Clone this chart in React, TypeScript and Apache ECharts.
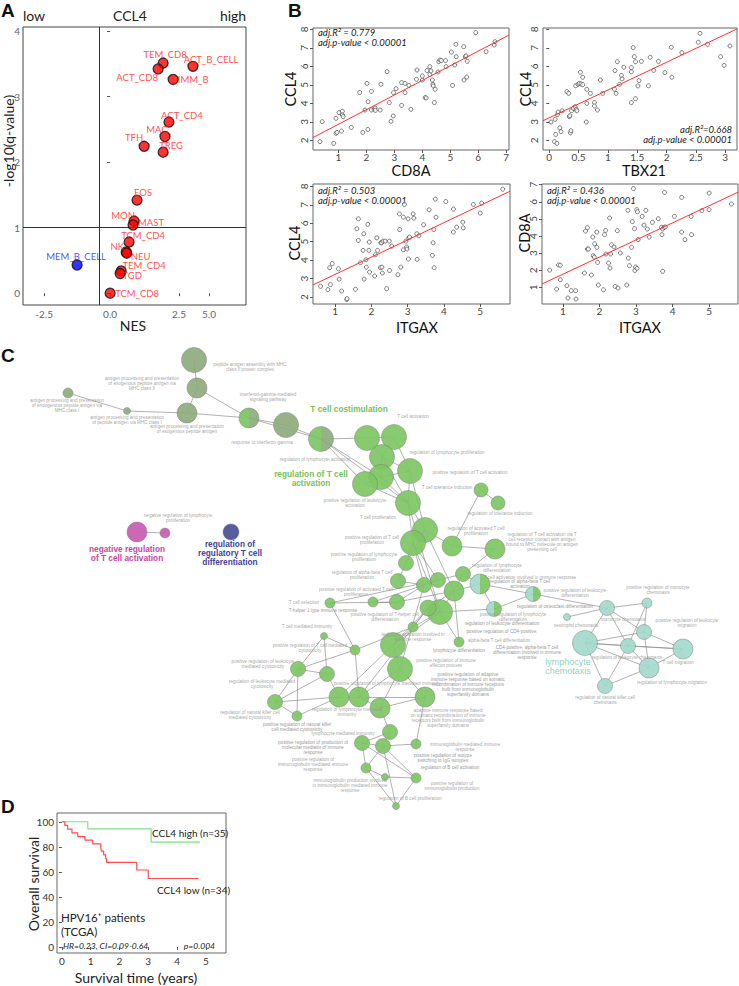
import React, { useEffect, useRef } from "react";
import * as echarts from "echarts";

const FONT = "Lato, 'Liberation Sans', sans-serif";
const NETFONT = "'Liberation Sans', Arial, sans-serif";

// ---------------- Panel A data ----------------
const cellTypes = ["TEM_CD8", "ACT_CD8", "ACT_B_CELL", "IMM_B", "ACT_CD4", "MAC", "TFH", "TREG", "EOS", "MON", "MAST", "TCM_CD4", "NK", "NEU", "TEM_CD4", "TGD", "TCM_CD8", "MEM_B_CELL"];
const nesValues = [2.01, 1.82, 3.14, 2.39, 2.23, 2.08, 1.29, 2.01, 1.02, 0.91, 0.87, 0.72, 0.61, 0.63, 0.42, 0.38, 0.0, -1.25];
const negLog10Q = [3.51, 3.42, 3.46, 3.26, 2.61, 2.39, 2.24, 2.15, 1.42, 1.1, 1.04, 0.78, 0.63, 0.61, 0.34, 0.3, 0.0, 0.43];
const nesTickValues = [-2.5, 0, 2.61, 3.75];
const nesTickLabels = ["-2.5", "0.0", "2.5", "5.0"];
const qTicks = [0, 1, 2, 3, 4];
const nesCut = -0.4;
const qCut = 1;
// label offsets (style)
const labelOffsetsA: [number, number][] = [[2, -9], [-21, 9], [18, -7], [20, 0], [13, -7], [-8, -7], [-10, -9], [8, -7], [6, -8], [-11, -6], [18, -3], [14, -7], [-9, -5], [14, 3], [23, -5], [12, 2], [27, 0], [-1, -9]];

// ---------------- Panel B data ----------------
const cd8a1 = [0.34, 0.42, 0.83, 0.91, 0.95, 0.91, 1.02, 1.11, 1.14, 1.14, 1.17, 1.46, 1.76, 1.87, 1.95, 2.02, 2.06, 2.05, 2.18, 2.18, 2.28, 2.31, 2.32, 2.49, 2.52, 2.74, 2.82, 2.88, 2.96, 2.97, 3.06, 3.26, 3.26, 3.38, 3.38, 3.52, 3.59, 3.79, 3.81, 4.0, 4.0, 4.1, 4.14, 4.17, 4.27, 4.27, 4.31, 4.36, 4.38, 4.39, 4.43, 4.46, 4.56, 4.59, 4.63, 4.68, 4.83, 4.85, 5.04, 5.08, 5.16, 5.2, 5.21, 5.48, 5.49, 5.54, 5.56, 5.59, 5.61, 5.91, 6.28, 6.57, 6.6];
const ccl4a = [1.93, 3.01, 1.84, 2.38, 2.43, 3.19, 3.5, 2.5, 3.57, 3.37, 3.28, 2.7, 4.59, 2.43, 3.64, 5.08, 4.09, 2.59, 4.65, 3.64, 3.68, 3.75, 3.62, 3.64, 5.03, 5.71, 4.04, 3.03, 3.32, 4.58, 4.79, 5.12, 3.89, 4.58, 5.08, 4.97, 3.68, 5.3, 5.8, 5.26, 5.48, 4.31, 4.29, 5.77, 5.55, 5.98, 5.75, 5.26, 5.03, 4.94, 4.04, 4.76, 5.69, 6.25, 6.34, 6.31, 6.31, 5.98, 6.77, 4.97, 6.07, 7.19, 6.52, 7.06, 5.26, 6.52, 6.56, 5.42, 6.27, 7.82, 6.79, 7.15, 7.33];
const tbx21 = [0.03, 0.09, 0.13, 0.11, 0.1, 0.14, 0.15, 0.18, 0.2, 0.22, 0.3, 0.33, 0.34, 0.35, 0.36, 0.37, 0.38, 0.41, 0.44, 0.46, 0.47, 0.45, 0.49, 0.51, 0.53, 0.54, 0.57, 0.57, 0.64, 0.64, 0.63, 0.7, 0.77, 0.77, 0.82, 0.87, 0.91, 1.12, 1.11, 1.14, 1.16, 1.2, 1.23, 1.24, 1.27, 1.4, 1.4, 1.4, 1.43, 1.45, 1.47, 1.47, 1.51, 1.53, 1.57, 1.69, 1.72, 1.78, 1.86, 1.97, 2.08, 2.09, 2.26, 2.54, 2.57, 2.7, 2.92, 2.98, 3.08];
const ccl4b = [2.99, 1.93, 1.84, 2.32, 3.14, 3.39, 3.53, 2.68, 2.47, 3.6, 4.63, 4.54, 3.28, 3.33, 2.41, 2.52, 3.6, 3.73, 3.82, 3.68, 3.6, 4.95, 5.03, 5.08, 5.68, 5.05, 5.41, 5.01, 4.76, 4.0, 2.99, 4.54, 4.04, 3.86, 3.64, 5.26, 4.54, 5.77, 4.76, 4.54, 6.25, 5.03, 5.51, 5.32, 5.95, 4.04, 5.71, 5.93, 7.01, 6.52, 6.25, 4.25, 4.94, 5.23, 6.27, 4.95, 6.49, 5.78, 6.27, 5.66, 7.03, 5.41, 6.74, 7.3, 7.78, 7.19, 6.52, 6.05, 7.1];
const itgaxC = [0.6, 0.8, 0.87, 0.85, 0.92, 1.09, 1.11, 1.18, 1.32, 1.33, 1.56, 1.6, 1.64, 1.64, 1.7, 1.77, 1.79, 1.8, 1.85, 1.86, 1.9, 1.93, 1.94, 1.95, 2.09, 2.11, 2.15, 2.17, 2.25, 2.26, 2.28, 2.29, 2.3, 2.32, 2.38, 2.42, 2.49, 2.5, 2.56, 2.73, 2.77, 2.78, 2.81, 2.88, 2.88, 2.91, 2.95, 2.97, 2.98, 3.01, 3.02, 3.03, 3.05, 3.15, 3.17, 3.25, 3.26, 3.31, 3.44, 3.59, 3.68, 3.7, 3.72, 3.73, 3.76, 3.78, 4.05, 4.26, 4.26, 4.35, 4.52, 4.53, 4.81, 5.0, 5.04, 5.62];
const ccl4c = [2.58, 2.4, 2.67, 3.59, 3.81, 3.53, 2.97, 2.32, 1.86, 1.91, 2.42, 5.7, 6.24, 5.07, 3.86, 4.53, 5.43, 2.97, 4.02, 3.62, 5.94, 4.53, 4.98, 3.35, 3.14, 4.29, 5.21, 4.53, 3.59, 4.94, 4.94, 3.62, 3.3, 5.03, 5.03, 2.45, 5.03, 3.44, 4.76, 3.21, 6.51, 5.66, 3.62, 6.33, 4.56, 7.02, 5.03, 4.71, 4.6, 6.24, 4.06, 5.21, 5.25, 6.51, 6.28, 5.43, 4.04, 5.32, 5.92, 6.73, 4.26, 4.94, 5.66, 3.59, 7.31, 6.33, 7.18, 6.77, 5.52, 5.79, 6.06, 5.75, 7.02, 6.55, 7.09, 7.85];
const itgaxD = [0.64, 0.83, 0.88, 0.93, 0.93, 1.11, 1.14, 1.23, 1.35, 1.36, 1.59, 1.62, 1.67, 1.67, 1.7, 1.78, 1.82, 1.83, 1.86, 1.87, 1.93, 1.93, 1.95, 1.97, 2.11, 2.14, 2.17, 2.18, 2.25, 2.28, 2.29, 2.31, 2.33, 2.4, 2.43, 2.49, 2.51, 2.57, 2.75, 2.78, 2.79, 2.82, 2.88, 2.9, 2.93, 2.96, 2.97, 2.99, 3.02, 3.03, 3.04, 3.06, 3.17, 3.22, 3.27, 3.31, 3.36, 3.45, 3.61, 3.7, 3.71, 3.73, 3.73, 3.77, 3.78, 3.8, 4.05, 4.25, 4.25, 4.34, 4.51, 4.52, 4.8, 5.0, 5.0, 5.61];
const cd8aD = [2.01, 0.9, 2.31, 2.29, 1.45, 1.1, 0.38, 0.81, 0.81, 0.32, 1.84, 4.29, 4.49, 3.24, 3.24, 1.72, 3.94, 2.85, 2.77, 3.55, 4.23, 3.34, 2.46, 1.14, 0.86, 4.08, 4.33, 2.95, 2.42, 5.05, 2.13, 2.95, 3.49, 3.36, 1.06, 4.31, 0.96, 3.01, 1.14, 5.5, 2.71, 2.27, 3.34, 4.84, 6.77, 4.43, 1.99, 2.19, 5.54, 2.11, 5.42, 3.79, 5.15, 4.64, 5.5, 4.41, 3.94, 4.8, 5.01, 4.51, 4.08, 4.41, 1.94, 4.51, 6.55, 4.53, 5.15, 6.26, 4.23, 3.79, 5.15, 4.08, 5.48, 6.51, 5.54, 5.87];
const fitIntercepts = [2.08, 3.22, 2.29, 0.77];
const fitSlopes = [0.79, 1.5, 0.936, 1.0];
const fitR2Texts = ["adj.R² = 0.779", "adj.R²=0.668", "adj.R² = 0.503", "adj.R² = 0.436"];
const fitPTexts = ["adj.p-value < 0.00001", "adj.p-value < 0.00001", "adj.p-value < 0.00001", "adj.p-value < 0.00001"];

// ---------------- Panel C data (network) ----------------
// [label, x, y, radius, group]
const networkNodes: [string, number, number, number, string][] = [
  ["peptide antigen assembly with MHC\nclass II protein complex", 194, 360, 12.5, "o"],
  ["antigen processing and presentation\nof exogenous peptide antigen via\nMHC class II", 197, 388, 10, "o"],
  ["antigen processing and presentation\nof endogenous peptide antigen via\nMHC class I", 68, 393, 5, "o"],
  ["antigen processing and presentation\nof peptide antigen via MHC class I", 127, 411, 3.5, "o"],
  ["antigen processing and presentation\nof exogenous peptide antigen", 187, 413, 10, "o"],
  ["interferon-gamma-mediated\nsignaling pathway", 249, 418, 10, "go"],
  ["response to interferon-gamma", 286, 425, 12.5, "o"],
  ["regulation of lymphocyte activation", 321, 439, 12.5, "go"],
  ["", 367, 438, 12.5, "g"],
  ["T cell activation", 394, 437, 12.5, "g"],
  ["regulation of lymphocyte proliferation", 382, 457, 12.5, "g"],
  ["positive regulation of T cell activation", 410, 471, 12.5, "g"],
  ["", 381, 477, 12.5, "g"],
  ["positive regulation of leukocyte\nactivation", 365, 484, 12.5, "g"],
  ["T cell proliferation", 408, 503, 12.5, "g"],
  ["", 425, 530, 12.5, "g"],
  ["positive regulation of T cell\nproliferation", 413, 543, 12.5, "g"],
  ["regulation of activated T cell\nproliferation", 452, 546, 10, "g"],
  ["T cell tolerance induction", 481, 490, 7, "g"],
  ["regulation of tolerance induction", 498, 503, 7, "g"],
  ["regulation of T cell activation via T\ncell receptor contact with antigen\nbound to MHC molecule on antigen\npresenting cell", 495, 549, 10, "g"],
  ["positive regulation of lymphocyte\nproliferation", 406, 563, 7.5, "g"],
  ["regulation of alpha-beta T cell\nproliferation", 398, 581, 7.5, "g"],
  ["positive regulation of activated T cell\nproliferation", 373, 602, 5, "g"],
  ["T cell selection", 330, 603, 5, "g"],
  ["positive regulation of T-helper cell\ndifferentiation", 397, 602, 7.5, "g"],
  ["", 424, 585, 7.5, "g"],
  ["", 438, 580, 7.5, "g"],
  ["regulation of lymphocyte\ndifferentiation", 463, 574, 7.5, "g"],
  ["", 454, 591, 10, "g"],
  ["", 440, 612, 12.5, "g"],
  ["", 428, 608, 8, "g"],
  ["T cell activation involved in immune response", 480, 584, 10, "tg"],
  ["positive regulation of lymphocyte\ndifferentiation", 494, 609, 7.5, "tg"],
  ["positive regulation of leukocyte\ndifferentiation", 533, 594, 7.5, "tg"],
  ["", 413, 627, 5, "g"],
  ["alpha-beta T cell differentiation", 459, 642, 5, "g"],
  ["leukocyte activation involved in\nimmune response", 393, 645, 12.5, "g"],
  ["positive regulation of immune\neffector process", 400, 669, 12.5, "g"],
  ["positive regulation of T cell mediated\ncytotoxicity", 355, 650, 5, "g"],
  ["T cell mediated immunity", 324, 636, 3.5, "g"],
  ["positive regulation of leukocyte\nmediated cytotoxicity", 298, 669, 7.5, "g"],
  ["regulation of leukocyte mediated\ncytotoxicity", 327, 674, 7.5, "g"],
  ["", 275, 702, 7.5, "g"],
  ["regulation of natural killer cell\nmediated cytotoxicity", 297, 716, 5, "g"],
  ["", 339, 697, 10, "g"],
  ["regulation of lymphocyte mediated\nimmunity", 359, 697, 10, "g"],
  ["positive regulation of lymphocyte mediated immunity", 380, 708, 10, "g"],
  ["adaptive immune response based\non somatic recombination of immune\nreceptors built from immunoglobulin\nsuperfamily domains", 425, 697, 10, "g"],
  ["", 390, 732, 7.5, "g"],
  ["lymphocyte mediated immunity", 362, 743, 7.5, "g"],
  ["", 383, 746, 7.5, "g"],
  ["immunoglobulin mediated immune\nresponse", 416, 744, 5, "g"],
  ["positive regulation of\nimmunoglobulin mediated immune\nresponse", 366, 768, 5, "g"],
  ["immunoglobulin production involved\nin immunoglobulin mediated immune\nresponse", 385, 777, 3.5, "g"],
  ["positive regulation of\nimmunoglobulin production", 416, 778, 5, "g"],
  ["regulation of B cell proliferation", 396, 806, 3.5, "g"],
  ["", 137, 532, 10, "m"],
  ["negative regulation of lymphocyte\nproliferation", 165, 533, 5, "m"],
  ["", 231, 532, 8, "b"],
  ["neutrophil chemotaxis", 567, 617, 3.5, "t"],
  ["monocyte chemotaxis", 607, 608, 7.5, "t"],
  ["positive regulation of monocyte\nchemotaxis", 647, 603, 5, "t"],
  ["", 585, 643, 12.5, "t"],
  ["regulation of leukocyte chemotaxis", 628, 646, 7.5, "t"],
  ["positive regulation of leukocyte\nmigration", 644, 632, 7.5, "t"],
  ["T cell migration", 683, 649, 10, "t"],
  ["regulation of lymphocyte migration", 649, 668, 10, "t"],
  ["regulation of natural killer cell\nchemotaxis", 605, 686, 7.5, "t"],
];
// label anchor (style) for each node
const networkLabelAnchors: [number, number][] = [
  [250, 367], [142, 383], [67, 405], [127, 420], [187, 429], [268, 397], [262, 442], [315, 459], [0, 0], [413, 416],
  [447, 452], [470, 472], [0, 0], [355, 503], [378, 517], [0, 0], [372, 540], [476, 531], [447, 487], [500, 513],
  [542, 542], [364, 557], [362, 575], [356, 592], [304, 602], [385, 617], [0, 0], [0, 0], [497, 568], [0, 0],
  [0, 0], [0, 0], [530, 577], [513, 617], [575, 593], [0, 0], [499, 640], [413, 637], [446, 663], [310, 648],
  [307, 626], [263, 664], [262, 684], [0, 0], [250, 715], [0, 0], [347, 712], [387, 683], [448, 718], [0, 0],
  [343, 733], [0, 0], [465, 747], [313, 764], [350, 785], [452, 786], [410, 798], [0, 0], [178, 518], [0, 0],
  [576, 625], [623, 619], [658, 590], [0, 0], [627, 657], [687, 623], [678, 662], [672, 682], [605, 700],
];
const networkEdges: [number, number][] = [
  [0, 1], [1, 4], [2, 3], [3, 4], [4, 5], [1, 5], [5, 6], [6, 7], [5, 7], [7, 8], [7, 12], [7, 13], [7, 14],
  [8, 9], [8, 10], [9, 10], [9, 11], [10, 11], [10, 12], [11, 12], [12, 13], [13, 14], [11, 14], [12, 14],
  [14, 15], [14, 16], [15, 16], [15, 17], [11, 15], [10, 14], [15, 21], [16, 21], [17, 18], [18, 19], [17, 20],
  [15, 29], [16, 30], [14, 30], [16, 26], [16, 27], [21, 22], [22, 26], [23, 25], [24, 25], [24, 27], [25, 26],
  [26, 27], [27, 28], [28, 29], [29, 30], [30, 31], [28, 32], [29, 32], [32, 33], [32, 34], [33, 34], [30, 33],
  [34, 61], [30, 36], [29, 36], [30, 37], [31, 37], [37, 38], [35, 37], [30, 35], [35, 39], [39, 40], [40, 41],
  [39, 41], [41, 42], [41, 43], [42, 43], [43, 44], [41, 44], [42, 45], [45, 46], [46, 47], [43, 45], [44, 45],
  [39, 46], [37, 45], [38, 46], [38, 47], [47, 48], [38, 48], [46, 48], [48, 52], [49, 47], [49, 50], [50, 51],
  [51, 52], [50, 53], [51, 53], [53, 54], [54, 55], [51, 55], [50, 55], [53, 56], [55, 56], [51, 56], [49, 51],
  [24, 39], [40, 42], [25, 29], [23, 26], [29, 31], [31, 35], [57, 58], [20, 28], [26, 38], [31, 46],
  [60, 61], [61, 62], [61, 63], [61, 64], [61, 65], [62, 65], [62, 64], [63, 64], [63, 66], [63, 65], [63, 67],
  [63, 68], [64, 66], [64, 67], [64, 68], [65, 66], [65, 67], [66, 67], [67, 68],
];
const freeNetLabels: [string, number, number][] = [
  ["T-helper 1 type immune response", 323, 610],
  ["regulation of alpha-beta T cell\nactivation", 520, 584],
  ["regulation of leukocyte differentiation", 502, 623],
  ["positive regulation of CD4-positive,", 502, 631],
  ["regulation of osteoclast differentiation", 555, 606],
  ["lymphocyte differentiation", 459, 650],
  ["CD4-positive, alpha-beta T cell\ndifferentiation involved in immune\nresponse", 527, 652],
  ["positive regulation of natural killer\ncell mediated cytotoxicity", 297, 727],
  ["positive regulation of adaptive\nimmune response based on somatic\nrecombination of immune receptors\nbuilt from immunoglobulin\nsuperfamily domains", 468, 684],
  ["positive regulation of isotype\nswitching to IgG isotypes", 443, 758],
  ["regulation of B cell activation", 450, 767],
  ["positive regulation of production of\nmolecular mediator of immune\nresponse", 313, 747],
];
const clusterLabels: [string, number, number, string, string][] = [
  ["T cell costimulation", 349, 409, "#76c15a", "bold"],
  ["regulation of T cell\nactivation", 311, 478, "#76c15a", "bold"],
  ["negative regulation\nof T cell activation", 127, 553, "#c2479e", "bold"],
  ["regulation of\nregulatory T cell\ndifferentiation", 230, 553, "#3f4494", "bold"],
  ["lymphocyte\nchemotaxis", 568, 666, "#8dd4c2", "normal"],
];

// ---------------- Panel D data ----------------
const kmHighTime = [0, 0.9, 3.1, 4.8];
const kmHighSurv = [100, 94.3, 83.8, 83.8];
const kmLowTime = [0, 0.1, 0.2, 0.35, 0.55, 0.8, 1.07, 1.35, 1.37, 1.45, 1.52, 1.55, 2.6, 3.0, 4.75];
const kmLowSurv = [100, 97.1, 94.1, 91.2, 88.2, 85.3, 82.4, 79.4, 76.5, 73.5, 70.6, 67.6, 61.5, 54.7, 54.7];

// ---------------- helpers ----------------
const COLORS: Record<string, string> = { g: "#7dc563", o: "#8fab7e", t: "#a3d9cb", m: "#c95bb0", b: "#4a4f98" };
function nodeColor(group: string): any {
  if (group === "go" || group === "tg") {
    const a = group === "go" ? COLORS.g : COLORS.t;
    const b = group === "go" ? COLORS.o : COLORS.g;
    return new echarts.graphic.LinearGradient(0, 0, 1, 0, [
      { offset: 0, color: a }, { offset: 0.5, color: a }, { offset: 0.5, color: b }, { offset: 1, color: b },
    ]);
  }
  return COLORS[group];
}

function valAxis(gridIndex: number, min: number, max: number, ticks: number[], extra: any = {}) {
  const { axisLabel, ...rest } = extra;
  return {
    type: "value", gridIndex, min, max,
    axisLine: { show: false },
    splitLine: { show: false },
    axisTick: { show: true, customValues: ticks, length: 3, lineStyle: { color: "#555" } },
    axisLabel: { customValues: ticks, fontSize: 10, color: "#444", fontFamily: FONT, margin: 3, ...(axisLabel || {}) },
    ...rest,
  };
}

function text(t: string, x: number, y: number, o: any = {}) {
  const { rotation, ...st } = o;
  return {
    type: "text", x, y, rotation: rotation || 0, silent: true,
    style: { text: t, fill: "#111", fontSize: 12, fontFamily: FONT, align: "center", verticalAlign: "middle", ...st },
  };
}

function buildOption(): any {
  const gridBoxes = [
    { left: 23, top: 27, width: 223, height: 278 },
    { left: 313, top: 28, width: 196, height: 122 },
    { left: 543, top: 28, width: 194, height: 122 },
    { left: 313, top: 184, width: 197, height: 120 },
    { left: 542, top: 184, width: 196, height: 120 },
    { left: 0, top: 340, width: 739, height: 490 },
    { left: 57, top: 813, width: 169, height: 140 },
  ];
  const grid = gridBoxes.map((g, i) => ({
    ...g, show: i !== 5, borderColor: i === 0 ? "#444" : "#666", borderWidth: 1, backgroundColor: "transparent",
  }));

  const bx = [
    { min: 0.09, max: 7.1, ticks: [1, 2, 3, 4, 5, 6, 7] },
    { min: -0.107, max: 3.2, ticks: [0, 0.5, 1, 1.5, 2, 2.5, 3] },
    { min: 0.39, max: 5.82, ticks: [1, 2, 3, 4, 5] },
    { min: 0.43, max: 5.79, ticks: [1, 2, 3, 4, 5] },
  ];
  const by = [
    { min: 1.48, max: 8.07, ticks: [2, 3, 4, 5, 6, 7, 8] },
    { min: 1.48, max: 8.07, ticks: [2, 3, 4, 5, 6, 7, 8] },
    { min: 1.62, max: 8.13, ticks: [2, 3, 4, 5, 6, 7, 8] },
    { min: 0.03, max: 7.04, ticks: [1, 2, 3, 4, 5, 6, 7] },
  ];

  const xAxis: any[] = [
    valAxis(0, -3.3, 5.15, nesTickValues, {
      axisLabel: { color: "#666", fontSize: 10, margin: 4, formatter: (v: number) => nesTickLabels[nesTickValues.indexOf(v)] ?? "" },
    }),
    ...bx.map((a, i) => valAxis(i + 1, a.min, a.max, a.ticks, { axisLabel: { margin: 2 } })),
    { type: "value", gridIndex: 5, min: 0, max: 739, show: false },
    valAxis(6, -0.17, 5.7, [0, 1, 2, 3, 4, 5], { axisLabel: { color: "#333" } }),
  ];
  const yAxis: any[] = [
    valAxis(0, -0.18, 4.06, qTicks, { axisLabel: { color: "#666", fontSize: 10, margin: 3 } }),
    ...by.map((a, i) => valAxis(i + 1, a.min, a.max, a.ticks, { axisLabel: { rotate: 90, margin: 4 } })),
    { type: "value", gridIndex: 5, min: 340, max: 830, inverse: true, show: false },
    valAxis(6, -4.8, 107, [0, 20, 40, 60, 80, 100], { axisLabel: { color: "#333" } }),
  ];

  const series: any[] = [];

  // Panel A
  series.push({
    type: "scatter", xAxisIndex: 0, yAxisIndex: 0, symbolSize: 10, z: 5,
    data: cellTypes.map((n, i) => {
      const col = nesValues[i] < 0 ? "#0000ff" : "#ff0000";
      return {
        name: n, value: [nesValues[i], negLog10Q[i]],
        itemStyle: { color: col, borderColor: "#111", borderWidth: 1.3 },
        label: {
          show: true, position: "inside", offset: labelOffsetsA[i], formatter: n,
          color: nesValues[i] < 0 ? "#2020ff" : "#ff2020", fontSize: 9.5, fontFamily: FONT,
        },
      };
    }),
    markLine: {
      silent: true, symbol: ["none", "none"], label: { show: false },
      lineStyle: { color: "#333", type: "solid", width: 1 },
      data: [{ xAxis: nesCut }, { yAxis: qCut }],
    },
  });

  // Panel B
  const bData: [number[], number[]][] = [[cd8a1, ccl4a], [tbx21, ccl4b], [itgaxC, ccl4c], [itgaxD, cd8aD]];
  bData.forEach(([xs, ys], i) => {
    series.push({
      type: "scatter", xAxisIndex: i + 1, yAxisIndex: i + 1, symbol: "circle", symbolSize: 4,
      itemStyle: { color: "#ffffff", borderColor: "#333", borderWidth: 0.8 },
      data: xs.map((x, j) => [x, ys[j]]),
    });
    const x0 = bx[i].min, x1 = bx[i].max;
    series.push({
      type: "line", xAxisIndex: i + 1, yAxisIndex: i + 1, showSymbol: false, clip: true,
      lineStyle: { color: "#ff3030", width: 1 },
      data: [[x0, fitIntercepts[i] + fitSlopes[i] * x0], [x1, fitIntercepts[i] + fitSlopes[i] * x1]],
    });
  });

  // Panel C
  series.push({
    type: "graph", coordinateSystem: "cartesian2d", xAxisIndex: 5, yAxisIndex: 5,
    roam: false, edgeSymbol: ["none", "none"],
    lineStyle: { color: "#8a8a8a", width: 0.9, opacity: 0.75 },
    data: networkNodes.map(([lab, x, y, r, g], i) => ({
      name: "node" + i, value: [x, y], symbolSize: r * 2,
      itemStyle: { color: nodeColor(g), borderColor: "#7a7a7a", borderWidth: 0.5, opacity: 0.92 },
      label: lab
        ? {
            show: true, position: "inside", formatter: lab,
            offset: [networkLabelAnchors[i][0] - x, networkLabelAnchors[i][1] - y],
            fontSize: 4.6, lineHeight: 5, color: "#9a9a9a", fontFamily: NETFONT, align: "center", verticalAlign: "middle",
          }
        : { show: false },
    })),
    links: networkEdges.map(([s, t]) => ({ source: s, target: t })),
  });

  // Panel D
  series.push({
    type: "line", xAxisIndex: 6, yAxisIndex: 6, step: "end", showSymbol: false,
    lineStyle: { color: "#7fe07f", width: 1.2 },
    data: kmHighTime.map((t, i) => [t, kmHighSurv[i]]),
  });
  series.push({
    type: "line", xAxisIndex: 6, yAxisIndex: 6, step: "end", showSymbol: false,
    lineStyle: { color: "#ff4d4d", width: 1.2 },
    data: kmLowTime.map((t, i) => [t, kmLowSurv[i]]),
  });

  const graphics: any[] = [];
  // panel letters
  const letterStyle = { fontSize: 19, fontWeight: "bold", fontFamily: "'Liberation Sans', Arial", verticalAlign: "top", align: "left" };
  graphics.push(text("A", 1, 1, letterStyle));
  graphics.push(text("B", 288, 1, letterStyle));
  graphics.push(text("C", 1, 346, letterStyle));
  graphics.push(text("D", 1, 797, letterStyle));
  // panel A header & axis names
  graphics.push(text("low", 34, 15, { fontSize: 14, fill: "#222" }));
  graphics.push(text("CCL4", 130, 15, { fontSize: 14, fill: "#222" }));
  graphics.push(text("high", 233, 15, { fontSize: 14, fill: "#222" }));
  graphics.push(text("-log10(q-value)", 8, 141, { fontSize: 14, fill: "#222", rotation: Math.PI / 2 }));
  graphics.push(text("NES", 133, 325, { fontSize: 14, fill: "#222" }));
  // panel B axis names
  const bNames: [string, number, number, boolean][] = [
    ["CCL4", 290, 89, true], ["CD8A", 411, 170, false],
    ["CCL4", 525, 89, true], ["TBX21", 644, 170, false],
    ["CCL4", 294, 243, true], ["ITGAX", 417, 327, false],
    ["CD8A", 524, 233, true], ["ITGAX", 640, 327, false],
  ];
  bNames.forEach(([t, x, y, v]) => graphics.push(text(t, x, y, { fontSize: 14.5, fill: "#111", rotation: v ? Math.PI / 2 : 0 })));
  // fit annotations (two lines each)
  const annot: [number, number, string][] = [[318, 32.5, "left"], [732, 129.5, "right"], [318, 190, "left"], [547, 190, "left"]];
  annot.forEach(([x, y, al], i) => {
    graphics.push(text(fitR2Texts[i], x, y, { fontSize: 9.5, fontStyle: "italic", align: al, fill: "#222" }));
    graphics.push(text(fitPTexts[i], x, y + 10, { fontSize: 9.5, fontStyle: "italic", align: al, fill: "#222" }));
  });
  // panel C free labels
  freeNetLabels.forEach(([t, x, y]) =>
    graphics.push(text(t, x, y, { fontSize: 4.6, lineHeight: 5, fill: "#9a9a9a", fontFamily: NETFONT })));
  clusterLabels.forEach(([t, x, y, c, w]) =>
    graphics.push(text(t, x, y, { fontSize: w === "bold" ? 8.3 : 9, lineHeight: 9, fill: c, fontWeight: w, fontFamily: NETFONT })));
  // panel D texts
  graphics.push(text("CCL4 high (n=35)", 152, 833, { fontSize: 10, align: "left", fill: "#222" }));
  graphics.push(text("CCL4 low (n=34)", 157, 890, { fontSize: 10, align: "left", fill: "#222" }));
  graphics.push(text("HPV16⁺ patients", 61, 917, { fontSize: 11.5, align: "left", fill: "#222" }));
  graphics.push(text("(TCGA)", 61, 931, { fontSize: 11.5, align: "left", fill: "#222" }));
  graphics.push(text("HR=0.23, CI=0.09-0.64", 63, 946, { fontSize: 8.5, fontStyle: "italic", align: "left", fill: "#222" }));
  graphics.push(text("p=0.004", 215, 946, { fontSize: 8.5, fontStyle: "italic", align: "right", fill: "#222" }));
  graphics.push(text("Overall survival", 33, 884, { fontSize: 14, fill: "#222", rotation: Math.PI / 2 }));
  graphics.push(text("Survival time (years)", 136, 977, { fontSize: 14, fill: "#222" }));

  return {
    animation: false,
    backgroundColor: "#ffffff",
    grid, xAxis, yAxis, series,
    graphic: { elements: graphics },
  };
}

export default function App() {
  const ref = useRef<HTMLDivElement>(null);
  useEffect(() => {
    const chart = echarts.init(ref.current!, null, { renderer: "svg" });
    chart.setOption(buildOption());
    return () => chart.dispose();
  }, []);
  return <div ref={ref} style={{ position: "absolute", left: 0, top: 0, width: 739, height: 986, background: "#fff" }} />;
}
